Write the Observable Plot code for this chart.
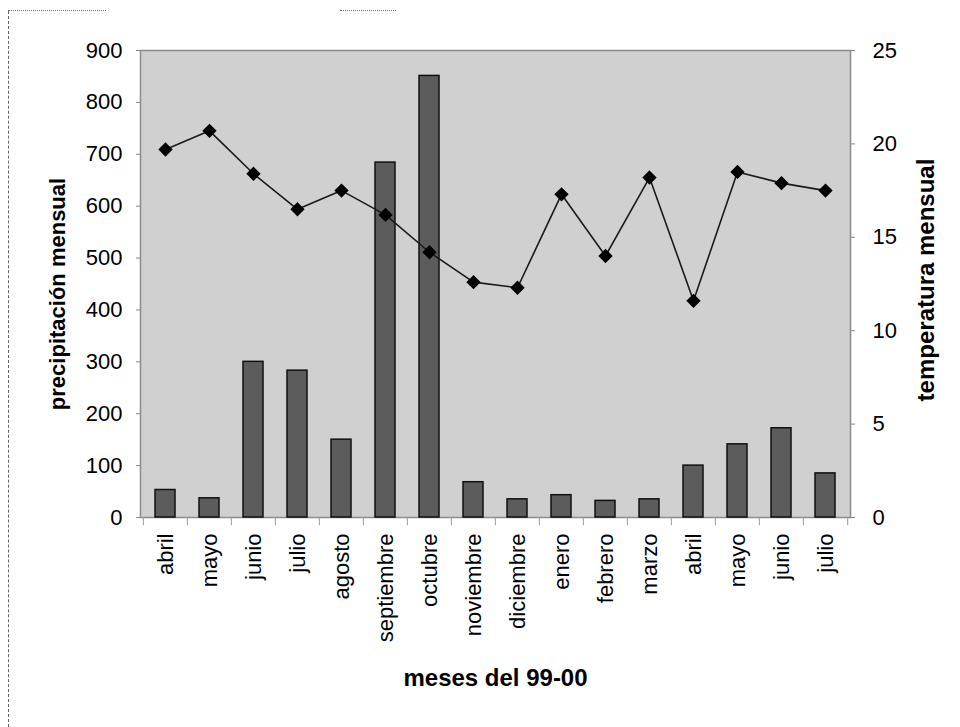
<!DOCTYPE html>
<html>
<head>
<meta charset="utf-8">
<script src="https://cdn.jsdelivr.net/npm/d3@7"></script>
<script src="https://cdn.jsdelivr.net/npm/@observablehq/plot@0.6"></script>
<style>
  html, body { margin: 0; padding: 0; background: #fff; }
  #wrap { position: relative; width: 960px; height: 727px; overflow: hidden; }
  #leftline { position: absolute; left: 8px; top: 11px; bottom: 0; border-left: 1px dashed #666; }
  .dots { position: absolute; top: 10px; height: 0; border-top: 1px dotted #777; }
</style>
</head>
<body>
<div id="wrap">
  <div id="leftline"></div>
  <div class="dots" style="left:8px; width:98px;"></div>
  <div class="dots" style="left:340px; width:56px;"></div>
</div>
<script>
const months = ["abril","mayo","junio","julio","agosto","septiembre","octubre","noviembre","diciembre","enero","febrero","marzo","abril","mayo","junio","julio"];
const precipitacion = [53, 37, 300, 283, 150, 684, 851, 68, 35, 43, 32, 35, 100, 141, 172, 85];
const temperatura = [19.7, 20.7, 18.4, 16.5, 17.5, 16.2, 14.2, 12.6, 12.3, 17.3, 14.0, 18.2, 11.6, 18.5, 17.9, 17.5];
const precipTicks = [0, 100, 200, 300, 400, 500, 600, 700, 800, 900];
const tempTicks = [0, 5, 10, 15, 20, 25];
const xTitle = "meses del 99-00";
const yLeftTitle = "precipitación mensual";
const yRightTitle = "temperatura mensual";

const precipMax = 900, tempMax = 25;
const k = precipMax / tempMax; // maps temperature onto the precipitation scale

const data = months.map((m, i) => ({i, m, p: precipitacion[i], t: temperatura[i]}));
const idx = d3.range(months.length);

const W = 960, H = 727, mL = 140, mR = 110, mT = 50, mB = 210;
const bw = (W - mL - mR) / months.length;

const chart = Plot.plot({
  width: W, height: H,
  marginLeft: mL, marginRight: mR, marginTop: mT, marginBottom: mB,
  style: {fontFamily: "'Liberation Sans', Arial, sans-serif", color: "#000", background: "transparent"},
  x: {type: "band", domain: idx, paddingInner: 0.55, paddingOuter: 0.275},
  y: {domain: [0, precipMax]},
  marks: [
    Plot.frame({fill: "#d0d0d0", stroke: "#8c8c8c", strokeWidth: 1.5}),
    Plot.ruleX(idx, {x: d => d, y1: 0, y2: -16, dx: -bw / 2, stroke: "#999", strokeWidth: 1}),
    Plot.ruleX([idx[idx.length - 1]], {x: d => d, y1: 0, y2: -16, dx: bw / 2, stroke: "#999", strokeWidth: 1}),
    Plot.barY(data, {x: "i", y: "p", fill: "#5c5c5c", stroke: "#111", strokeWidth: 1.5}),
    Plot.line(data, {x: "i", y: d => d.t * k, stroke: "#1a1a1a", strokeWidth: 1.6}),
    Plot.dot(data, {x: "i", y: d => d.t * k, symbol: "diamond2", r: 5.5, fill: "#000", stroke: "#000"}),
    Plot.axisY(precipTicks, {anchor: "left", tickSize: 4, tickPadding: 14, fontSize: 22, label: null, stroke: "#888"}),
    Plot.axisY(tempTicks.map(t => t * k), {anchor: "right", tickSize: 4, tickPadding: 18, fontSize: 22, label: null, stroke: "#888", tickFormat: d => String(Math.round(d / k))}),
    Plot.axisX(idx, {anchor: "bottom", tickSize: 0, tickPadding: 16, tickRotate: -90, fontSize: 22, label: null, tickFormat: i => months[i]}),
    Plot.text([yLeftTitle], {text: d => d, frameAnchor: "left", textAnchor: "middle", lineAnchor: "middle", rotate: -90, dx: -83, dy: 10, fontSize: 22, fontWeight: "bold", fill: "#000"}),
    Plot.text([yRightTitle], {text: d => d, frameAnchor: "right", textAnchor: "middle", lineAnchor: "middle", rotate: -90, dx: 76, dy: -4, fontSize: 24, fontWeight: "bold", fill: "#000"}),
    Plot.text([xTitle], {text: d => d, frameAnchor: "bottom", dy: 168, fontSize: 24, fontWeight: "bold", fill: "#000"})
  ]
});
document.getElementById("wrap").appendChild(chart);
</script>
</body>
</html>
